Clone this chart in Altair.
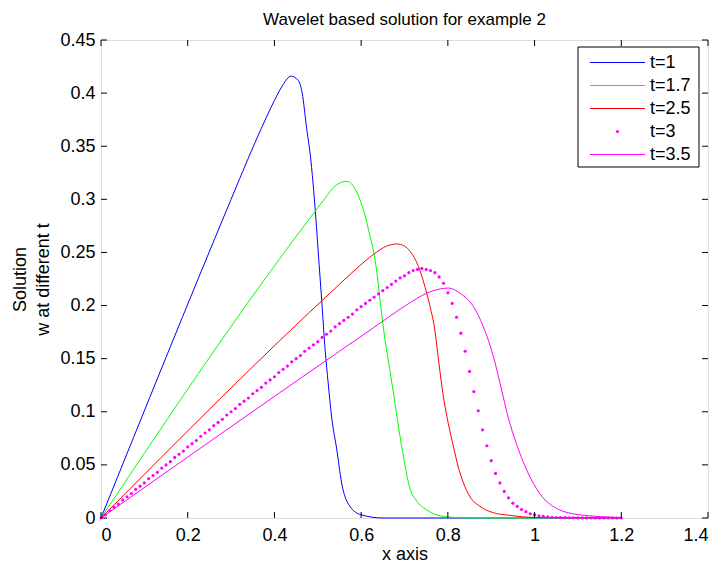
import altair as alt
import pandas as pd

FONT = "Liberation Sans"
FS = 18

names = ["t=1", "t=1.7", "t=2.5", "t=3", "t=3.5"]
colors = ["#0000ff", "#00ff00", "#ff0000", "#ff00ff", "#ff00ff"]

# t=1 (blue line)
x1 = [0, 0.30, 0.34, 0.37, 0.40, 0.42, 0.438, 0.455, 0.464, 0.474, 0.484, 0.491,
      0.497, 0.502, 0.509, 0.517, 0.524, 0.532, 0.544, 0.555, 0.574, 0.60, 0.65, 1.2]
y1 = [0, 0.300, 0.339, 0.367, 0.393, 0.408, 0.416, 0.412, 0.400, 0.368, 0.337, 0.306,
      0.274, 0.245, 0.205, 0.158, 0.127, 0.095, 0.064, 0.033, 0.011, 0.003, 0.0, 0.0]

# t=1.7 (green line)
x2 = [0, 0.45, 0.50, 0.513, 0.543, 0.567, 0.593, 0.609, 0.620, 0.630, 0.637, 0.643,
      0.655, 0.666, 0.678, 0.690, 0.701, 0.711, 0.728, 0.75, 0.767, 0.80, 0.85, 1.2]
y2 = [0, 0.265, 0.292, 0.299, 0.3135, 0.317, 0.304, 0.285, 0.266, 0.248, 0.229, 0.207,
      0.168, 0.140, 0.108, 0.076, 0.050, 0.030, 0.016, 0.008, 0.004, 0.001, 0.0, 0.0]

# t=2.5 (red line)
x3 = [0, 0.55, 0.59, 0.628, 0.659, 0.682, 0.70, 0.713, 0.732, 0.747, 0.759, 0.770,
      0.779, 0.789, 0.801, 0.813, 0.824, 0.836, 0.851, 0.874, 0.905, 0.943, 1.0, 1.2]
y3 = [0, 0.220, 0.235, 0.248, 0.256, 0.258, 0.256, 0.251, 0.237, 0.218, 0.199, 0.177,
      0.147, 0.116, 0.089, 0.067, 0.048, 0.033, 0.020, 0.011, 0.005, 0.0025, 0.0005, 0.0]

# t=3 (magenta dots, step 0.01 from 0 to 1.2)
x4 = [round(i / 100, 2) for i in range(121)]
y4 = [0.000, 0.003, 0.007, 0.010, 0.013, 0.017, 0.020, 0.023, 0.027, 0.030,
      0.033, 0.037, 0.040, 0.043, 0.047, 0.050, 0.053, 0.057, 0.060, 0.063,
      0.067, 0.070, 0.073, 0.077, 0.080, 0.083, 0.087, 0.090, 0.093, 0.097,
      0.100, 0.103, 0.107, 0.110, 0.113, 0.117, 0.120, 0.123, 0.127, 0.130,
      0.133, 0.137, 0.140, 0.143, 0.147, 0.150, 0.153, 0.157, 0.160, 0.163,
      0.166, 0.170, 0.173, 0.176, 0.180, 0.183, 0.186, 0.189, 0.192, 0.196,
      0.199, 0.202, 0.205, 0.208, 0.211, 0.214, 0.217, 0.220, 0.223, 0.226,
      0.228, 0.231, 0.233, 0.234, 0.235, 0.234, 0.233, 0.231, 0.227, 0.221,
      0.212, 0.202, 0.189, 0.174, 0.157, 0.138, 0.119, 0.101, 0.083, 0.068,
      0.054, 0.042, 0.033, 0.025, 0.019, 0.014, 0.011, 0.008, 0.006, 0.004,
      0.003, 0.002, 0.0015, 0.001, 0.0007, 0.0005, 0.0004, 0.0003, 0.0002, 0.0002,
      0.0001, 0.0001, 0.0001, 0.0, 0.0, 0.0, 0.0, 0.0, 0.0, 0.0, 0.0]

# t=3.5 (magenta line)
x5 = [0, 0.55, 0.628, 0.705, 0.751, 0.782, 0.801, 0.828, 0.859, 0.882, 0.905, 0.924,
      0.939, 0.958, 0.982, 1.012, 1.051, 1.105, 1.2]
y5 = [0, 0.157, 0.179, 0.2006, 0.2116, 0.2156, 0.2165, 0.2116, 0.199, 0.180, 0.152, 0.1205,
      0.095, 0.070, 0.045, 0.023, 0.009, 0.003, 0.0005]

x_ticks = [0, 0.2, 0.4, 0.6, 0.8, 1, 1.2, 1.4]
y_ticks = [0, 0.05, 0.1, 0.15, 0.2, 0.25, 0.3, 0.35, 0.4, 0.45]

W, H = 607, 478
TICK = 6

xs = alt.Scale(domain=[0, 1.4], nice=False, zero=False)
ys = alt.Scale(domain=[0, 0.45], nice=False, zero=False)

xaxis = alt.Axis(values=x_ticks, format="~g", ticks=False, grid=False, domain=False,
                 labelPadding=8, labelFontSize=FS, labelFont=FONT, labelColor="black",
                 title="x axis", titleFontSize=FS, titleFont=FONT, titleFontWeight="normal",
                 titleColor="black", titlePadding=1)
yaxis = alt.Axis(values=y_ticks, format="~g", ticks=False, grid=False, domain=False,
                 labelPadding=6, labelFontSize=FS, labelFont=FONT, labelColor="black",
                 title=["Solution", "w at different t"], titleFontSize=FS, titleFont=FONT,
                 titleFontWeight="normal", titleColor="black",
                 titleX=-81, titleY=H / 2, titleAngle=-90, titleBaseline="middle",
                 titleAlign="center", titleLineHeight=23)


def line_layer(xv, yv, color):
    df = pd.DataFrame({"x": xv, "y": yv})
    return alt.Chart(df).mark_line(color=color, strokeWidth=1, interpolate="monotone").encode(
        x=alt.X("x:Q", scale=xs, axis=xaxis),
        y=alt.Y("y:Q", scale=ys, axis=yaxis),
    )


blue = line_layer(x1, y1, colors[0])
green = line_layer(x2, y2, colors[1])
red = line_layer(x3, y3, colors[2])
dots = alt.Chart(pd.DataFrame({"x": x4, "y": y4})).mark_circle(
    color=colors[3], size=10, opacity=1).encode(
    x=alt.X("x:Q", scale=xs, axis=xaxis),
    y=alt.Y("y:Q", scale=ys, axis=yaxis),
)
magenta = line_layer(x5, y5, colors[4])

# inward ticks (box style)
xt = pd.DataFrame({"v": x_ticks})
yt = pd.DataFrame({"v": y_ticks})
xt_bottom = alt.Chart(xt).mark_rule(color="black", strokeWidth=1).encode(
    x=alt.X("v:Q", scale=xs), y=alt.value(H), y2=alt.value(H - TICK))
xt_top = alt.Chart(xt).mark_rule(color="black", strokeWidth=1).encode(
    x=alt.X("v:Q", scale=xs), y=alt.value(0), y2=alt.value(TICK))
yt_left = alt.Chart(yt).mark_rule(color="black", strokeWidth=1).encode(
    y=alt.Y("v:Q", scale=ys), x=alt.value(0), x2=alt.value(TICK))
yt_right = alt.Chart(yt).mark_rule(color="black", strokeWidth=1).encode(
    y=alt.Y("v:Q", scale=ys), x=alt.value(W), x2=alt.value(W - TICK))

# legend (drawn as a boxed key in the upper-right corner)
LX0, LX1, LY0, LY1 = 477, 598, 7, 127
ROW0, ROWSTEP = 22.5, 23
legend_box = alt.Chart(pd.DataFrame({"a": [0]})).mark_rect(
    fill="white", stroke="black", strokeWidth=1).encode(
    x=alt.value(LX0), x2=alt.value(LX1), y=alt.value(LY0), y2=alt.value(LY1))

legend_layers = [legend_box]
for i, (nm, col) in enumerate(zip(names, colors)):
    row = pd.DataFrame({"name": [nm]})
    py = ROW0 + ROWSTEP * i
    if nm == "t=3":
        sym = alt.Chart(row).mark_circle(size=10, opacity=1, fill=col, stroke=col,
                                         strokeWidth=0).encode(
            x=alt.value(516.5), y=alt.value(py))
    else:
        sym = alt.Chart(row).mark_rule(strokeWidth=1, stroke=col).encode(
            x=alt.value(489), x2=alt.value(544), y=alt.value(py))
    txt = alt.Chart(row).mark_text(
        align="left", baseline="middle", fontSize=FS, font=FONT, fill="black").encode(
        x=alt.value(549), y=alt.value(py), text="name:N")
    legend_layers += [sym, txt]

chart = alt.layer(
    blue, green, red, dots, magenta,
    xt_bottom, xt_top, yt_left, yt_right,
    *legend_layers,
).properties(
    width=W, height=H,
    title=alt.TitleParams("Wavelet based solution for example 2", fontSize=17, font=FONT,
                          fontWeight="normal", color="black", anchor="middle", offset=2),
    autosize=alt.AutoSizeParams(type="none"),
    padding={"left": 93, "top": 32, "right": 7, "bottom": 44},
).configure_view(stroke="black", strokeWidth=1).configure(background="white")

chart.save("out.html", embed_options={"renderer": "svg", "actions": False})
